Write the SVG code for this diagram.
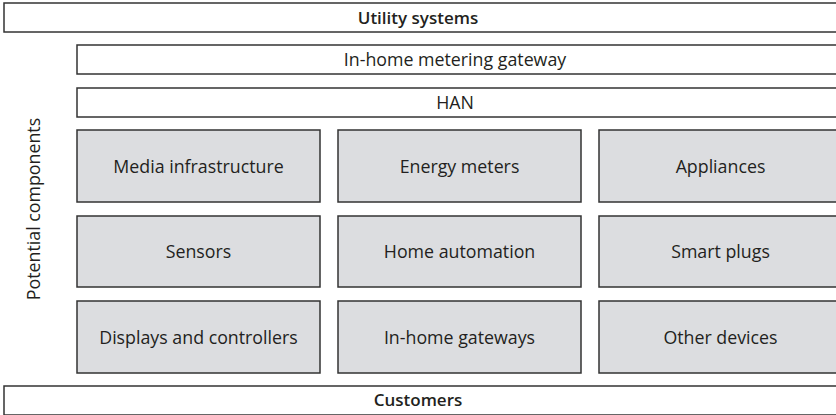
<svg xmlns="http://www.w3.org/2000/svg" width="836" height="415" viewBox="0 0 836 415">
<style>
.bar{fill:#ffffff;stroke:#333333;stroke-width:1.5}
.box{fill:#dcdde0;stroke:#333333;stroke-width:1.5}
text{font-family:"Open Sans","Liberation Sans",sans-serif;font-size:17.8px;fill:#231f20;text-anchor:middle}
.b{font-weight:600;font-size:17px}
</style>
<rect width="836" height="415" fill="#ffffff"/>
<g id="utility"><rect class="bar" x="4" y="3" width="836" height="29"/><text class="b" x="418" y="24">Utility systems</text></g>
<g id="gateway"><rect class="bar" x="77" y="45" width="763" height="29"/><text x="455" y="66">In-home metering gateway</text></g>
<g id="han"><rect class="bar" x="77" y="88" width="763" height="29"/><text x="455" y="109">HAN</text></g>
<g id="media"><rect class="box" x="77" y="130" width="243" height="72"/><text x="198.5" y="173">Media infrastructure</text></g>
<g id="energy"><rect class="box" x="338" y="130" width="243" height="72"/><text x="459.5" y="173">Energy meters</text></g>
<g id="appliances"><rect class="box" x="599" y="130" width="243" height="72"/><text x="720.5" y="173">Appliances</text></g>
<g id="sensors"><rect class="box" x="77" y="216" width="243" height="71"/><text x="198.5" y="258">Sensors</text></g>
<g id="homeauto"><rect class="box" x="338" y="216" width="243" height="71"/><text x="459.5" y="258">Home automation</text></g>
<g id="plugs"><rect class="box" x="599" y="216" width="243" height="71"/><text x="720.5" y="258">Smart plugs</text></g>
<g id="displays"><rect class="box" x="77" y="301" width="243" height="72"/><text x="198.5" y="344">Displays and controllers</text></g>
<g id="gateways"><rect class="box" x="338" y="301" width="243" height="72"/><text x="459.5" y="344">In-home gateways</text></g>
<g id="other"><rect class="box" x="599" y="301" width="243" height="72"/><text x="720.5" y="344">Other devices</text></g>
<g id="customers"><rect class="bar" x="4" y="386" width="836" height="29"/><text class="b" x="418" y="406">Customers</text></g>
<g id="label"><text transform="translate(40,209) rotate(-90)">Potential components</text></g>
<g id="connectors"></g>
</svg>
